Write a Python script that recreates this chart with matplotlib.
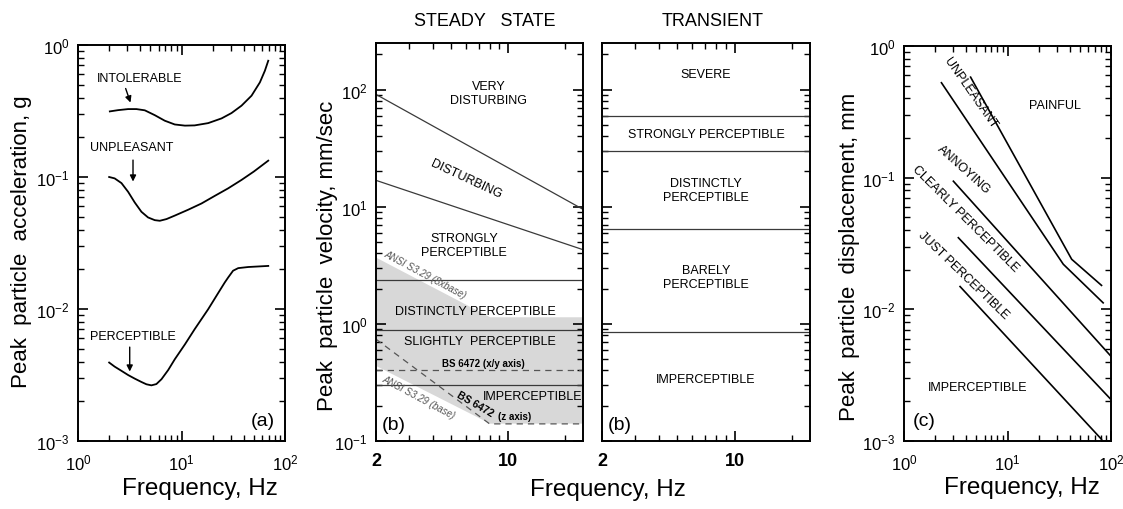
import numpy as np
import matplotlib
matplotlib.use('Agg')
import matplotlib.pyplot as plt
from matplotlib.ticker import FixedLocator, NullFormatter, FixedFormatter

plt.rcParams['font.family'] = ['Liberation Sans', 'DejaVu Sans']
plt.rcParams['mathtext.fontset'] = 'custom'
plt.rcParams['mathtext.rm'] = 'Liberation Sans'
plt.rcParams['mathtext.default'] = 'regular'

# (a) acceleration curves
a_intol_f = [2.03, 2.44, 3.05, 3.67, 4.42, 5.52, 6.89, 8.61, 10.8, 13.4, 18.1, 24.4,
             30.4, 38.0, 47.5, 57.2, 63.9, 68.9]
a_intol = [0.314, 0.321, 0.327, 0.327, 0.320, 0.294, 0.267, 0.250, 0.245, 0.246, 0.256,
           0.278, 0.305, 0.347, 0.413, 0.521, 0.638, 0.76]
a_unpl_f = [2.0, 2.26, 2.63, 3.05, 3.53, 4.10, 4.75, 5.52, 6.17, 7.16, 8.61, 11.6, 15.6,
            21.0, 28.2, 38.0, 50.0, 68.9]
a_unpl = [0.1, 0.0976, 0.0899, 0.0772, 0.0642, 0.0545, 0.0494, 0.0471, 0.0466, 0.048,
          0.051, 0.0565, 0.063, 0.072, 0.082, 0.095, 0.11, 0.133]
a_perc_f = [2.0, 2.26, 2.63, 3.05, 3.53, 4.10, 4.58, 5.12, 5.72, 6.41, 7.44, 8.61, 10.8,
            13.4, 18.1, 22.6, 26.2, 28.2, 31.5, 35.3, 44.1, 68.9]
a_perc = [0.00393, 0.00366, 0.0034, 0.00316, 0.00297, 0.0028, 0.00269, 0.00264, 0.0027,
          0.00294, 0.00345, 0.00416, 0.0054, 0.00703, 0.00996, 0.0132, 0.0159, 0.0173,
          0.0195, 0.0204, 0.0208, 0.0212]

# (b) steady state velocity
ss_f = [2, 25]
ss_very = [91, 9.5]
ss_dist = [16.8, 4.3]
ss_levels = [2.35, 0.89, 0.3]
bs_xy = 0.4
bs_z_f = [2, 8, 25]
bs_z = [0.74, 0.14, 0.14]
ansi_f = [2, 8, 25]
ansi_base = [0.44, 0.142, 0.142]
ansi_8x = [3.7, 1.15, 1.15]

# (b) transient
tr_levels = [60, 30, 6.5, 0.85]

# (c) displacement
c_lines = [
    ([4.4, 41.7, 81], [0.58, 0.024, 0.0152]),
    ([2.3, 34.6, 84], [0.526, 0.022, 0.0112]),
    ([3.0, 100], [0.094, 0.0044]),
    ([3.35, 98], [0.035, 0.0021]),
    ([3.48, 81], [0.0149, 0.00103]),
]

W, H = 1123, 510
fig = plt.figure(figsize=(W / 100, H / 100), dpi=100)


def box(x0, x1, ytop, ybot):
    return [x0 / W, (H - ybot) / H, (x1 - x0) / W, (ybot - ytop) / H]


def style(ax):
    for s in ax.spines.values():
        s.set_linewidth(1.4)
    ax.tick_params(which='both', direction='in', top=True, right=True, labelsize=12)
    ax.tick_params(which='major', length=7, width=1.2)
    ax.tick_params(which='minor', length=4, width=1.0)
    ax.tick_params(axis='x', which='both', pad=8)
    ax.tick_params(axis='y', which='both', pad=6)


lab = dict(fontsize=9, ha='center', va='center')
arr = dict(arrowstyle='-|>', color='black', lw=1, mutation_scale=9)

# ---- panel (a)
ax1 = fig.add_axes(box(78, 285, 46, 442))
ax1.set_xscale('log')
ax1.set_yscale('log')
ax1.set_xlim(1, 100)
ax1.set_ylim(1e-3, 1)
ax1.plot(a_intol_f, a_intol, color='black', lw=1.3)
ax1.plot(a_unpl_f, a_unpl, color='black', lw=1.3)
ax1.plot(a_perc_f, a_perc, color='black', lw=1.3)
style(ax1)
ax1.text(3.95, 0.56, 'INTOLERABLE', **lab)
ax1.annotate('', xy=(3.28, 0.35), xytext=(2.83, 0.49), arrowprops=arr)
ax1.text(3.28, 0.168, 'UNPLEASANT', **lab)
ax1.annotate('', xy=(3.4, 0.088), xytext=(3.4, 0.141), arrowprops=arr)
ax1.text(3.4, 0.0062, 'PERCEPTIBLE', **lab)
ax1.annotate('', xy=(3.16, 0.0032), xytext=(3.16, 0.0054), arrowprops=arr)
ax1.text(0.95, 0.03, '(a)', transform=ax1.transAxes, fontsize=14, ha='right', va='bottom')

# ---- panel (b) steady state
ax2 = fig.add_axes(box(376, 583, 44, 442))
ax2.set_xscale('log')
ax2.set_yscale('log')
ax2.set_xlim(2, 25)
ax2.set_ylim(0.1, 250)
ax2.fill_between(ansi_f, ansi_base, ansi_8x, color='#d8d8d8', lw=0, zorder=0)
lc = '#3a3a3a'
ax2.plot(ss_f, ss_very, color=lc, lw=0.9)
ax2.plot(ss_f, ss_dist, color=lc, lw=0.9)
for v in ss_levels:
    ax2.axhline(v, color=lc, lw=0.9)
ax2.axhline(bs_xy, color='#555555', lw=0.9, ls=(0, (5, 4)))
ax2.plot(bs_z_f, bs_z, color='#555555', lw=0.9, ls=(0, (5, 4)))
style(ax2)
ax2.xaxis.set_major_locator(FixedLocator([2, 10]))
ax2.xaxis.set_major_formatter(FixedFormatter(['2', '10']))
ax2.xaxis.set_minor_locator(FixedLocator([3, 4, 5, 6, 7, 8, 9, 20]))
ax2.xaxis.set_minor_formatter(NullFormatter())
ax2.yaxis.set_minor_formatter(NullFormatter())
for t in ax2.get_xticklabels():
    t.set_fontweight('bold')
    t.set_fontsize(13)
ax2.text(7.93, 93.5, 'VERY\nDISTURBING', **lab)
ax2.text(6.04, 17.5, 'DISTURBING', rotation=-25, **lab)
ax2.text(5.85, 4.69, 'STRONGLY\nPERCEPTIBLE', **lab)
ax2.text(3.64, 2.68, 'ANSI S3.29 (8xbase)', rotation=-28, fontsize=7, color='#555555',
         style='italic', ha='center', va='center')
ax2.text(3.35, 0.24, 'ANSI S3.29 (base)', rotation=-28, fontsize=7, color='#555555',
         style='italic', ha='center', va='center')
ax2.text(6.69, 1.30, 'DISTINCTLY PERCEPTIBLE', **lab)
ax2.text(7.11, 0.72, 'SLIGHTLY  PERCEPTIBLE', **lab)
ax2.text(7.4, 0.463, 'BS 6472 (x/y axis)', fontsize=7, fontweight='bold', ha='center', va='center')
ax2.text(13.6, 0.243, 'IMPERCEPTIBLE', **lab)
ax2.text(6.69, 0.21, 'BS 6472', rotation=-30, fontsize=7.5, fontweight='bold', ha='center', va='center')
ax2.text(10.8, 0.162, '(z axis)', fontsize=7, fontweight='bold', ha='center', va='center')
ax2.text(0.03, 0.02, '(b)', transform=ax2.transAxes, fontsize=14, ha='left', va='bottom')

# ---- panel (b) transient
ax3 = fig.add_axes(box(602, 810, 44, 442))
ax3.set_xscale('log')
ax3.set_yscale('log')
ax3.set_xlim(2, 25)
ax3.set_ylim(0.1, 250)
for v in tr_levels:
    ax3.axhline(v, color=lc, lw=0.9)
style(ax3)
ax3.xaxis.set_major_locator(FixedLocator([2, 10]))
ax3.xaxis.set_major_formatter(FixedFormatter(['2', '10']))
ax3.xaxis.set_minor_locator(FixedLocator([3, 4, 5, 6, 7, 8, 9, 20]))
ax3.xaxis.set_minor_formatter(NullFormatter())
ax3.yaxis.set_major_formatter(NullFormatter())
ax3.yaxis.set_minor_formatter(NullFormatter())
for t in ax3.get_xticklabels():
    t.set_fontweight('bold')
    t.set_fontsize(13)
ytr = ax3.get_yaxis_transform()
ax3.text(0.5, 136, 'SEVERE', transform=ytr, **lab)
ax3.text(0.5, 41.9, 'STRONGLY PERCEPTIBLE', transform=ytr, **lab)
ax3.text(0.5, 13.9, 'DISTINCTLY\nPERCEPTIBLE', transform=ytr, **lab)
ax3.text(0.5, 2.51, 'BARELY\nPERCEPTIBLE', transform=ytr, **lab)
ax3.text(0.5, 0.338, 'IMPERCEPTIBLE', transform=ytr, **lab)
ax3.text(0.03, 0.02, '(b)', transform=ax3.transAxes, fontsize=14, ha='left', va='bottom')

# ---- panel (c)
ax4 = fig.add_axes(box(904, 1111, 47, 442))
ax4.set_xscale('log')
ax4.set_yscale('log')
ax4.set_xlim(1, 100)
ax4.set_ylim(1e-3, 1)
for f, d in c_lines:
    ax4.plot(f, d, color='black', lw=1.2)
style(ax4)
ax4.text(4.34, 0.445, 'UNPLEASANT', rotation=-55, **lab)
ax4.text(28.8, 0.356, 'PAINFUL', **lab)
ax4.text(3.8, 0.1155, 'ANNOYING', rotation=-42, **lab)
ax4.text(3.95, 0.0497, 'CLEARLY PERCEPTIBLE', rotation=-45, **lab)
ax4.text(3.74, 0.0184, 'JUST PERCEPTIBLE', rotation=-44, **lab)
ax4.text(5.19, 0.00256, 'IMPERCEPTIBLE', **lab)
ax4.text(0.04, 0.03, '(c)', transform=ax4.transAxes, fontsize=14, ha='left', va='bottom')

# axis labels and titles
fig.text(22 / W, 1 - 242 / H, 'Peak  particle  acceleration, g', rotation=90,
         fontsize=16, ha='center', va='center')
fig.text(327 / W, 1 - 256 / H, 'Peak  particle  velocity, mm/sec', rotation=90,
         fontsize=16, ha='center', va='center')
fig.text(850 / W, 1 - 257 / H, 'Peak  particle  displacement, mm', rotation=90,
         fontsize=16, ha='center', va='center')
fig.text(200 / W, 1 - 489 / H, 'Frequency, Hz', fontsize=17.5, ha='center', va='center')
fig.text(608 / W, 1 - 490 / H, 'Frequency, Hz', fontsize=17.5, ha='center', va='center')
fig.text(1022 / W, 1 - 488 / H, 'Frequency, Hz', fontsize=17.5, ha='center', va='center')
fig.text(485 / W, 1 - 21 / H, 'STEADY   STATE', fontsize=13, ha='center', va='center')
fig.text(713 / W, 1 - 21 / H, 'TRANSIENT', fontsize=13, ha='center', va='center')

fig.savefig('out.png', dpi=100, facecolor='white')
